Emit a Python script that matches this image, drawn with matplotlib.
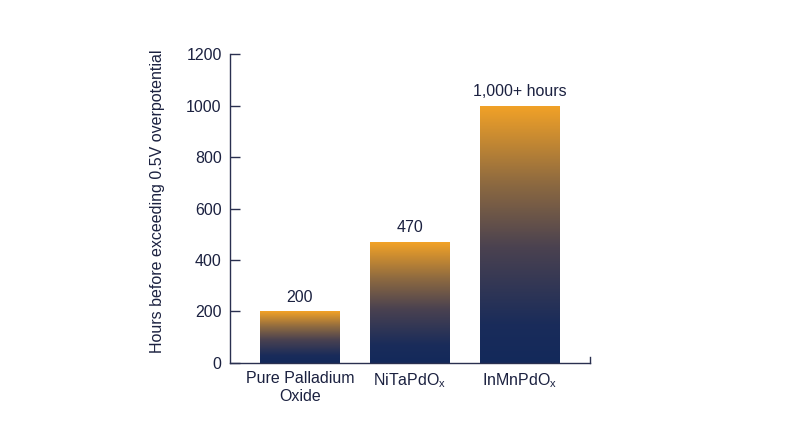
import matplotlib
matplotlib.use('Agg')
import matplotlib.pyplot as plt
from matplotlib.colors import LinearSegmentedColormap
import numpy as np

# data
categories = ['Pure Palladium\nOxide', 'NiTaPdO$_\\mathregular{x}$', 'InMnPdO$_\\mathregular{x}$']
hours = [200, 470, 1000]
bar_labels = ['200', '470', '1,000+ hours']
yticks = [0, 200, 400, 600, 800, 1000, 1200]

plt.rcParams['font.family'] = ['Liberation Sans', 'DejaVu Sans']
text_color = '#1b2140'
axis_color = '#2a3050'

# navy at the bottom of each bar fading into orange at its top
grad = LinearSegmentedColormap.from_list('navy_orange', [
    (0.0, '#13295b'), (0.15, '#1a2c5a'), (0.45, '#4b4250'),
    (0.7, '#8e6a40'), (1.0, '#f2a227')])

fig = plt.figure(figsize=(8, 4.47), dpi=100)
ax = fig.add_axes([0.2875, 0.188, 0.45, 0.691])

x = np.arange(len(categories))
bars = ax.bar(x, hours, width=0.727, facecolor='none', edgecolor='none')
ramp = np.linspace(0, 1, 256).reshape(-1, 1)
for b in bars:
    x0, y0 = b.get_x(), b.get_y()
    im = ax.imshow(ramp, cmap=grad, origin='lower', aspect='auto',
                   extent=[x0, x0 + b.get_width(), y0, y0 + b.get_height()],
                   interpolation='bilinear', zorder=2)
    im.set_clip_path(b)

for xi, h, lab in zip(x, hours, bar_labels):
    ax.annotate(lab, (xi, h), xytext=(0, 5), textcoords='offset points',
                ha='center', va='bottom', fontsize=11.5, color=text_color)

ax.set_xlim(-0.636, 2.636)
ax.set_ylim(0, 1200)
ax.set_yticks(yticks)
ax.set_xticks(x)
ax.set_xticklabels(categories, fontsize=11.5, color=text_color, linespacing=1.2)
ax.tick_params(axis='y', direction='in', length=7, width=1, color=axis_color,
               labelsize=11.5, labelcolor=text_color, pad=6)
ax.tick_params(axis='x', length=0, pad=6)
ax.set_ylabel('Hours before exceeding 0.5V overpotential', fontsize=11.5,
              color=text_color)
ax.yaxis.set_label_coords(-0.18, 0.525)

ax.spines['top'].set_visible(False)
ax.spines['right'].set_bounds(0, 22)
for side in ['left', 'bottom', 'right']:
    ax.spines[side].set_color(axis_color)
    ax.spines[side].set_linewidth(1)

fig.savefig('out.png', dpi=100, facecolor='white')
